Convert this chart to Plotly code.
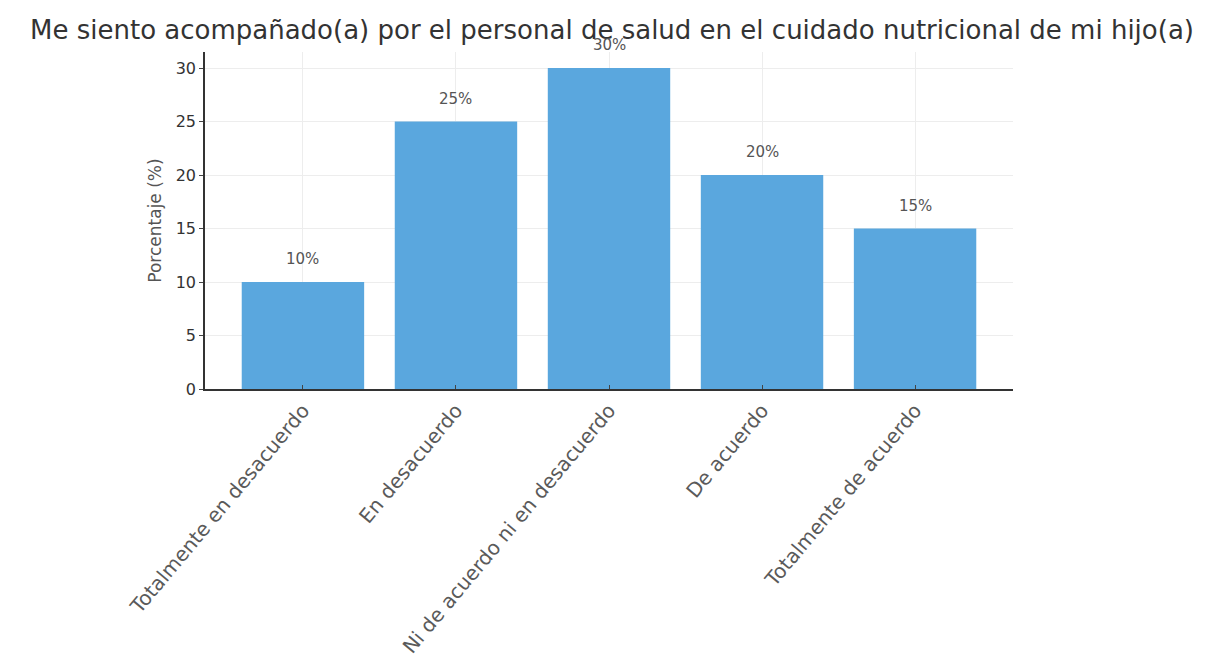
import plotly.graph_objects as go

categorias = [
    "Totalmente en desacuerdo",
    "En desacuerdo",
    "Ni de acuerdo ni en desacuerdo",
    "De acuerdo",
    "Totalmente de acuerdo",
]
porcentajes = [10, 25, 30, 20, 15]
etiquetas = [f"{v}%" for v in porcentajes]

fig = go.Figure(go.Bar(
    x=categorias,
    y=porcentajes,
    width=0.8,
    marker=dict(color="#5AA7DE", line=dict(width=0)),
))

# etiquetas sobre las barras (la del 30% queda bajo el título, como en el original)
for c, v, t in zip(categorias, porcentajes, etiquetas):
    fig.add_annotation(x=c, y=v, text=t, showarrow=False, yanchor="bottom",
                       yshift=12, font=dict(size=15, color="#555"))

fig.update_layout(
    title=dict(text="Me siento acompañado(a) por el personal de salud en el cuidado nutricional de mi hijo(a)",
               x=0.5, xanchor="center", y=0.968, yanchor="middle",
               font=dict(family="DejaVu Sans", size=26, color="#333")),
    width=1208, height=672,
    margin=dict(l=197, r=203, t=44, b=291, autoexpand=False),
    plot_bgcolor="white", paper_bgcolor="white",
    font=dict(family="DejaVu Sans", size=16, color="#333"),
    showlegend=False,
)
fig.update_xaxes(
    range=[-0.64, 4.64], tickangle=-50, showgrid=True, gridcolor="#ededed",
    showline=True, linecolor="#333", linewidth=1.5, ticks="inside", ticklen=4,
    tickfont=dict(size=20, color="#5a5a5a"), automargin=False,
)
fig.update_yaxes(
    range=[0, 31.5], tickvals=[0, 5, 10, 15, 20, 25, 30], showgrid=True, gridcolor="#ededed",
    showline=True, linecolor="#333", linewidth=1.5, ticks="outside", ticklen=4,
    title=dict(text="Porcentaje (%)", font=dict(size=17, color="#555"), standoff=10),
    tickfont=dict(size=16, color="#333"), zeroline=False, automargin=False,
)

fig.write_html("out.html")
